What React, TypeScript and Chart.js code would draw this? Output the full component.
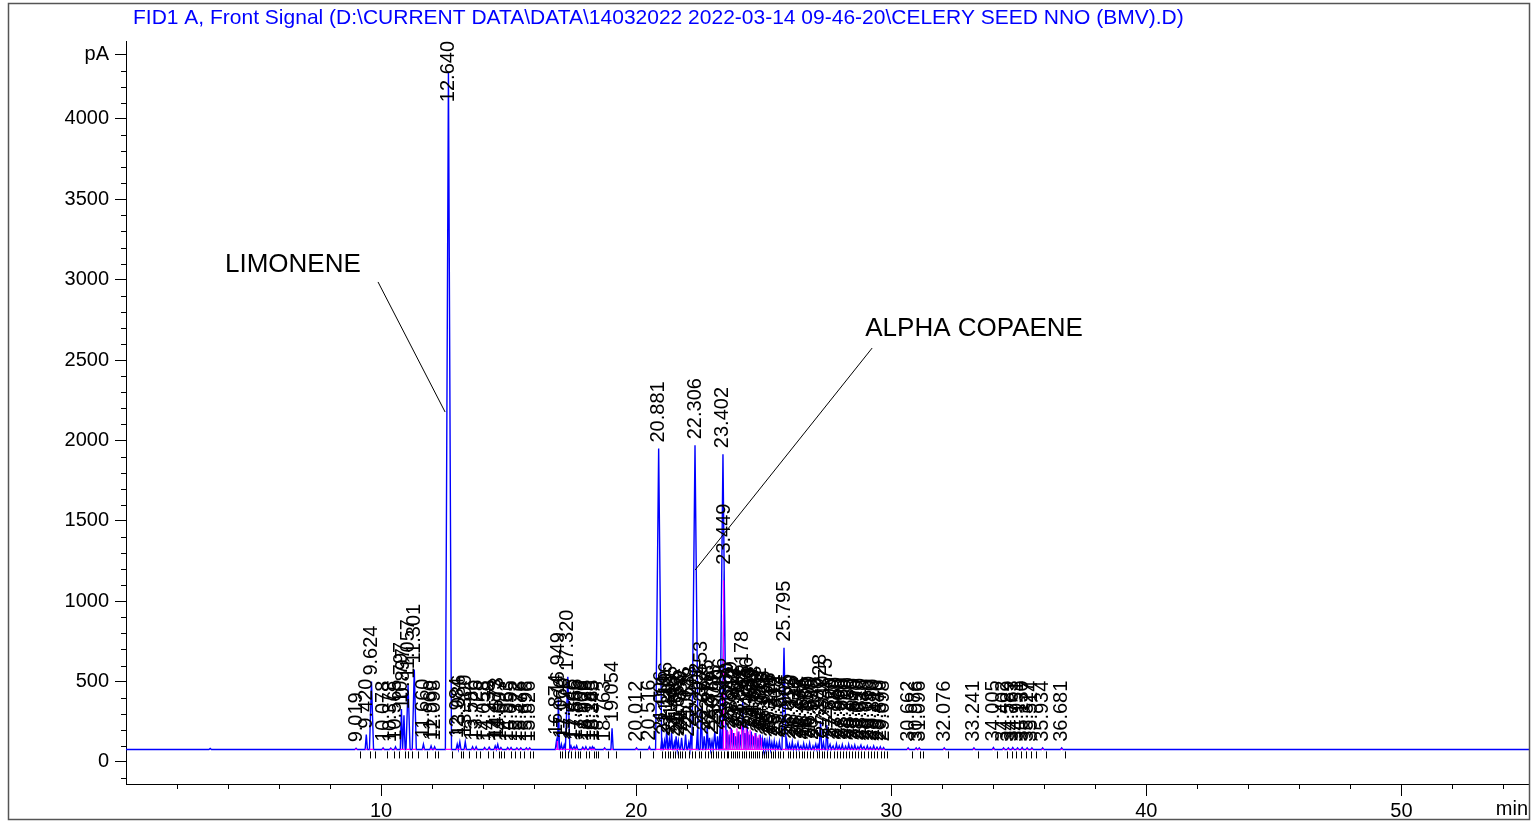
import { useEffect, useRef } from "react";
import { Chart, registerables } from "chart.js";

Chart.register(...registerables);

const titleText =
  "FID1 A, Front Signal (D:\\CURRENT DATA\\DATA\\14032022 2022-03-14 09-46-20\\CELERY SEED NNO (BMV).D)";

const baselineLevel = 78;

// Retention times (min) of labelled peaks
const peakTimes = [
  9.019, 9.42, 9.624, 10.078, 10.378, 10.565, 10.797, 10.897, 11.057, 11.301, 11.66, 11.96, 12.098,
  12.64,
  12.984, 13.086, 13.3, 13.586, 13.726, 14.058, 14.238, 14.473, 14.573, 14.697, 14.963, 15.095, 15.322, 15.476, 15.696, 15.826,
  16.874, 16.949, 17.066, 17.178, 17.32, 17.445, 17.566, 17.666, 17.906, 18.028, 18.188, 18.283, 18.345, 18.763, 19.054,
  20.012, 20.516, 20.881, 21.006, 21.11, 21.196, 21.301, 21.386, 21.496, 21.566, 21.653, 21.78, 21.936, 22.063, 22.148,
  22.306, 22.402, 22.553, 22.667, 22.785, 22.876, 22.973, 23.083, 23.19, 23.296, 23.402, 23.449, 23.56, 23.64, 23.729,
  23.812, 23.903, 23.996, 24.082, 24.178, 24.265, 24.346, 24.43, 24.511, 24.603, 24.688, 24.776, 24.861, 24.948, 25.036,
  25.131, 25.226, 25.318, 25.412, 25.508, 25.614, 25.795, 25.905, 26.012, 26.12, 26.23, 26.342, 26.455, 26.566, 26.68,
  26.8, 26.93, 27.04, 27.13, 27.228, 27.34, 27.475, 27.6, 27.72, 27.85, 27.96, 28.08, 28.21, 28.33, 28.45, 28.57, 28.69,
  28.81, 28.93, 29.06, 29.18, 29.31, 29.44, 29.57, 29.698,
  30.662, 30.976, 31.096, 32.076, 33.241, 34.005, 34.402, 34.589, 34.763, 34.951, 35.13, 35.327, 35.514, 35.934, 36.681,
];

// Peak apex signal (pA)
const peakHeights = [
  85, 170, 500, 88, 86, 95, 330, 290, 480, 575, 110, 100, 95,
  4290,
  110, 125, 125, 95, 95, 90, 92, 100, 110, 90, 90, 90, 88, 88, 88, 88,
  130, 390, 110, 105, 530, 100, 95, 100, 92, 95, 92, 95, 90, 88, 210,
  88, 95, 1950, 150, 130, 205, 140, 180, 120, 160, 130, 150, 170, 120, 180,
  1970, 200, 336, 160, 220, 150, 130, 190, 160, 230, 1915, 1190, 200, 170, 210,
  180, 160, 190, 170, 398, 180, 236, 170, 190, 160, 180, 150, 170, 140, 150,
  130, 140, 120, 130, 115, 125, 710, 130, 110, 125, 105, 120, 100, 115, 105,
  118, 100, 112, 105, 255, 120, 230, 110, 100, 112, 100, 108, 98, 110, 100, 105, 95,
  105, 95, 100, 92, 100, 92, 95, 90,
  88, 88, 88, 88, 88, 90, 88, 88, 90, 88, 90, 88, 88, 88, 88,
];

// Small unlabelled bumps
const bumpTimes = [3.3];
const bumpHeights = [84];

// Magenta drop lines (peak separation) in the 23–25 min cluster
const dropTimes = [16.91, 23.425, 23.51, 23.6, 23.69, 23.77, 23.86, 23.95, 24.04, 24.13, 24.22, 24.31, 24.39, 24.47, 24.56, 24.65, 24.73, 24.82, 24.91];
const dropTops = [130, 1130, 200, 190, 220, 200, 180, 210, 190, 230, 200, 220, 190, 200, 170, 180, 160, 170, 150];

const xMajorTicks = [10, 20, 30, 40, 50];
const yMajorTicks = [0, 500, 1000, 1500, 2000, 2500, 3000, 3500, 4000];
const yUnitTick = 4400;
const yUnitLabel = "pA";
const xUnitLabel = "min";

const annotations = [
  { text: "LIMONENE", tx: 3.88, ty: 3092, x1: 9.88, y1: 2986, x2: 12.51, y2: 2177 },
  { text: "ALPHA COPAENE", tx: 28.98, ty: 2694, x1: 29.25, y1: 2575, x2: 22.31, y2: 1194 },
];

const FONT = '"Liberation Sans", Arial, Helvetica, sans-serif';

function halfWidth(h: number) {
  if (h > 1500) return 0.12;
  if (h > 400) return 0.08;
  return 0.045;
}

export default function App() {
  const ref = useRef<HTMLCanvasElement | null>(null);

  useEffect(() => {
    if (!ref.current) return;

    const trace: { x: number; y: number }[] = [{ x: 0, y: baselineLevel }];
    bumpTimes.forEach((t, i) => {
      trace.push({ x: t - 0.05, y: baselineLevel }, { x: t, y: bumpHeights[i] }, { x: t + 0.05, y: baselineLevel });
    });
    peakTimes.forEach((t, i) => {
      const h = peakHeights[i];
      const w = halfWidth(h);
      trace.push({ x: t - w, y: baselineLevel }, { x: t, y: h }, { x: t + w, y: baselineLevel });
    });
    trace.push({ x: 55, y: baselineLevel });

    const magenta: { x: number; y: number | null }[] = [];
    peakTimes.forEach((t, i) => {
      const w = halfWidth(peakHeights[i]);
      magenta.push({ x: t - w, y: baselineLevel }, { x: t + w, y: baselineLevel }, { x: t + w, y: null });
    });
    dropTimes.forEach((t, i) => {
      magenta.push({ x: t, y: baselineLevel }, { x: t, y: dropTops[i] }, { x: t, y: null });
    });

    const overlay = {
      id: "overlay",
      beforeDraw(chart: any) {
        const ctx = chart.ctx;
        ctx.save();
        ctx.fillStyle = "#fff";
        ctx.fillRect(0, 0, chart.width, chart.height);
        ctx.restore();
      },
      afterDraw(chart: any) {
        const ctx = chart.ctx;
        const xs = chart.scales.x;
        const ys = chart.scales.y;
        const area = chart.chartArea;
        ctx.save();

        // minor ticks
        ctx.strokeStyle = "#000";
        ctx.lineWidth = 1;
        ctx.beginPath();
        for (let v = 2; v < 55; v += 2) {
          if (v % 10 === 0) continue;
          const px = Math.round(xs.getPixelForValue(v)) + 0.5;
          ctx.moveTo(px, area.bottom);
          ctx.lineTo(px, area.bottom + 5);
        }
        for (let v = -100; v <= 4400; v += 100) {
          if (v % 500 === 0 || v === yUnitTick) continue;
          const py = Math.round(ys.getPixelForValue(v)) + 0.5;
          ctx.moveTo(area.left, py);
          ctx.lineTo(area.left - 5, py);
        }
        ctx.stroke();

        // integration tick marks below baseline
        const basePx = ys.getPixelForValue(baselineLevel);
        ctx.beginPath();
        peakTimes.forEach((t) => {
          const px = Math.round(xs.getPixelForValue(t + 0.14)) + 0.5;
          ctx.moveTo(px, basePx + 2);
          ctx.lineTo(px, basePx + 9);
        });
        ctx.stroke();

        // peak labels
        ctx.font = "20px " + FONT;
        ctx.fillStyle = "#000";
        ctx.textAlign = "left";
        ctx.textBaseline = "middle";
        peakTimes.forEach((t, i) => {
          const label = t.toFixed(3);
          const px = xs.getPixelForValue(t);
          let py = ys.getPixelForValue(peakHeights[i]) - 6;
          const w = ctx.measureText(label).width;
          if (py - w < area.top) py = area.top + w;
          ctx.save();
          ctx.translate(px, py);
          ctx.rotate(-Math.PI / 2);
          ctx.fillText(label, 0, 0);
          ctx.restore();
        });

        // annotations
        ctx.font = "26px " + FONT;
        ctx.textBaseline = "middle";
        ctx.lineWidth = 1;
        annotations.forEach((a) => {
          ctx.fillText(a.text, xs.getPixelForValue(a.tx), ys.getPixelForValue(a.ty));
          ctx.beginPath();
          ctx.moveTo(xs.getPixelForValue(a.x1), ys.getPixelForValue(a.y1));
          ctx.lineTo(xs.getPixelForValue(a.x2), ys.getPixelForValue(a.y2));
          ctx.stroke();
        });

        // unit label on x axis
        ctx.font = "20px " + FONT;
        ctx.textAlign = "right";
        ctx.fillText(xUnitLabel, 1528, 809);

        // title
        ctx.font = "21px " + FONT;
        ctx.fillStyle = "#0000ff";
        ctx.textAlign = "left";
        ctx.textBaseline = "alphabetic";
        ctx.fillText(titleText, 133, 24);

        // frame
        ctx.strokeStyle = "#555";
        ctx.lineWidth = 1.5;
        ctx.strokeRect(8.5, 3.5, 1521, 816);
        ctx.restore();
      },
    };

    const chart = new Chart(ref.current, {
      type: "line",
      data: {
        datasets: [
          {
            data: magenta as any,
            borderColor: "#ff00ff",
            borderWidth: 1.2,
            pointRadius: 0,
            spanGaps: false,
            order: 0,
          },
          {
            data: trace as any,
            borderColor: "#0000ff",
            borderWidth: 1.4,
            pointRadius: 0,
            tension: 0,
            order: 1,
          },
        ],
      },
      options: {
        animation: false,
        responsive: false,
        devicePixelRatio: 1,
        events: [],
        layout: { padding: { top: 41, right: 2, left: 0, bottom: 0 } },
        plugins: {
          legend: { display: false },
          title: { display: false },
          tooltip: { enabled: false },
        },
        scales: {
          x: {
            type: "linear",
            min: 0,
            max: 55,
            afterBuildTicks: (scale: any) => {
              scale.ticks = xMajorTicks.map((v) => ({ value: v }));
            },
            afterFit: (scale: any) => {
              scale.height = 37;
            },
            ticks: {
              font: { size: 20, family: FONT },
              color: "#000",
              padding: 3,
              maxRotation: 0,
              autoSkip: false,
            },
            grid: { drawOnChartArea: false, drawTicks: true, tickLength: 12, color: "#000" },
            border: { display: true, color: "#000", width: 1 },
          },
          y: {
            type: "linear",
            min: -137,
            max: 4485,
            afterBuildTicks: (scale: any) => {
              scale.ticks = [...yMajorTicks, yUnitTick].map((v) => ({ value: v }));
            },
            afterFit: (scale: any) => {
              scale.width = 126;
            },
            ticks: {
              font: { size: 20, family: FONT },
              color: "#000",
              padding: 6,
              autoSkip: false,
              callback: (v: any) => (v === yUnitTick ? yUnitLabel : String(v)),
            },
            grid: { drawOnChartArea: false, drawTicks: true, tickLength: 11, color: "#000" },
            border: { display: true, color: "#000", width: 1 },
          },
        },
      },
      plugins: [overlay],
    });

    return () => chart.destroy();
  }, []);

  return (
    <div style={{ position: "absolute", left: 0, top: 0, width: 1531, height: 821 }}>
      <canvas ref={ref} width={1531} height={821} style={{ display: "block" }} />
    </div>
  );
}
